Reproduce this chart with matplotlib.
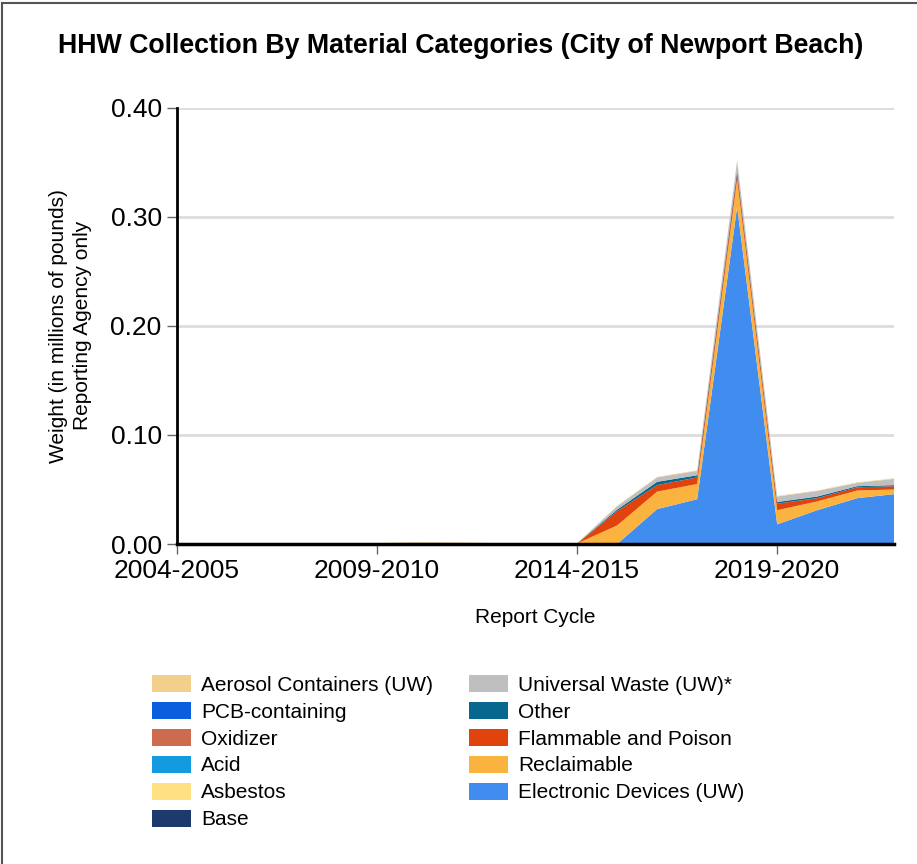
#!/usr/bin/env python3
"""
HHW collection by material categories - City of Newport Beach
"""

import numpy as np
import matplotlib.pyplot as plt
from matplotlib.patches import Patch, Rectangle

plt.rcParams['font.family'] = ['Liberation Sans', 'DejaVu Sans']

# Report cycles 2004-2005 .. 2022-2023
cycles = [f"{y}-{y + 1}" for y in range(2004, 2023)]
tick_cycles = ["2004-2005", "2009-2010", "2014-2015", "2019-2020"]

# Weights in millions of pounds (stack order, bottom first)
electronic = [0, 0, 0, 0, 0, 0, 0, 0, 0, 0, 0, 0.0, 0.032, 0.041, 0.309, 0.018, 0.031, 0.042, 0.046]
reclaimable = [0, 0, 0, 0, 0, 0.0004, 0.0005, 0.0005, 0.0005, 0.0005, 0.0005, 0.017, 0.016, 0.014, 0.025, 0.013, 0.008, 0.007, 0.004]
flammable = [0, 0, 0, 0, 0, 0, 0, 0, 0, 0, 0, 0.013, 0.006, 0.006, 0.006, 0.006, 0.003, 0.003, 0.003]
other = [0, 0, 0, 0, 0, 0, 0, 0, 0, 0, 0, 0.0015, 0.003, 0.002, 0.003, 0.0015, 0.0015, 0.001, 0.001]
universal = [0, 0, 0, 0, 0, 0.0003, 0.0008, 0.0005, 0.0003, 0.0003, 0.0003, 0.003, 0.004, 0.004, 0.008, 0.005, 0.005, 0.003, 0.006]
base = [0] * 19
asbestos = [0] * 19
acid = [0] * 19
oxidizer = [0] * 19
pcb = [0] * 19
aerosol = [0, 0, 0, 0, 0, 0, 0.0005, 0.0004, 0, 0, 0, 0.0005, 0.0005, 0.0005, 0.001, 0.0005, 0.0005, 0.0005, 0.0005]

series = [
    ("Electronic Devices (UW)", electronic, "#418cef"),
    ("Reclaimable", reclaimable, "#fbb33f"),
    ("Flammable and Poison", flammable, "#e0440c"),
    ("Other", other, "#08678f"),
    ("Universal Waste (UW)*", universal, "#bfbfbf"),
    ("Base", base, "#1c3a6b"),
    ("Asbestos", asbestos, "#ffe082"),
    ("Acid", acid, "#129cdf"),
    ("Oxidizer", oxidizer, "#cc6b4e"),
    ("PCB-containing", pcb, "#0a5fdc"),
    ("Aerosol Containers (UW)", aerosol, "#f2d08b"),
]

W, H = 917, 864
fig = plt.figure(figsize=(W / 100, H / 100), dpi=100)
ax = fig.add_axes([177 / W, 1 - 544 / H, (894 - 177) / W, (544 - 107.5) / H])

x = np.arange(len(cycles))
ax.stackplot(x, *[s[1] for s in series], colors=[s[2] for s in series],
             linewidth=0.4, edgecolor='none')

ax.set_xlim(0, 17.92)
ax.set_ylim(0, 0.40)
ax.set_yticks([0, 0.1, 0.2, 0.3, 0.4])
ax.set_yticklabels([f"{v:.2f}" for v in [0, 0.1, 0.2, 0.3, 0.4]], fontsize=19)
ax.set_xticks([cycles.index(c) for c in tick_cycles])
ax.set_xticklabels(tick_cycles, fontsize=19)
ax.tick_params(axis='both', length=7, width=1, color='#666666', pad=4)

ax.grid(True, axis='y', color='#dddddd', linewidth=2)
ax.set_axisbelow(True)
for side in ['top', 'right']:
    ax.spines[side].set_visible(False)
ax.spines['left'].set_linewidth(2)
ax.spines['bottom'].set_linewidth(2.5)
ax.spines['left'].set_zorder(5)
ax.spines['bottom'].set_zorder(5)

ax.set_xlabel("Report Cycle", fontsize=15, labelpad=18)
ax.set_ylabel("Weight (in millions of pounds)\nReporting Agency only", fontsize=15,
              labelpad=13, linespacing=1.35)

fig.text(461 / W, 1 - 46 / H, "HHW Collection By Material Categories (City of Newport Beach)",
         ha='center', va='center', fontsize=19.3, fontweight='bold')

# legend, reverse of stack order, filled column-wise
handles = [Patch(facecolor=c, edgecolor='none', label=n) for n, _, c in series[::-1]]
fig.legend(handles=handles, loc='upper left', bbox_to_anchor=(152 / W, 1 - 675 / H),
           ncol=2, frameon=False, fontsize=15, handlelength=1.85, handleheight=0.87,
           handletextpad=0.5, labelspacing=0.35, columnspacing=1.75, borderpad=0,
           borderaxespad=0)

# outer frame
fig.patches.append(Rectangle((0.002, -0.05), 1.2, 1.047, transform=fig.transFigure,
                             fill=False, edgecolor='#555555', linewidth=1.5))

fig.savefig("out.png", dpi=100)
